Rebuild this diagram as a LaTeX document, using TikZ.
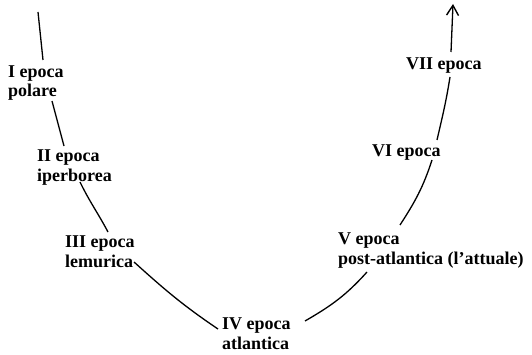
\documentclass[tikz,border=0pt]{standalone}
\usepackage{fontspec}
\setmainfont{Liberation Serif}
\usetikzlibrary{arrows.meta}
\begin{document}
\begin{tikzpicture}[x=1pt,y=1pt,
  lbl/.style={anchor=base west,inner sep=0pt,align=left,
    font=\bfseries\fontsize{18}{20}\selectfont},
  curve/.style={line width=1.3pt,black}]
\useasboundingbox (0,0) rectangle (532,354);
\node[lbl] (L1) at (8,257) {I epoca\\polare};
\node[lbl] (L2) at (37,173) {II epoca\\iperborea};
\node[lbl] (L3) at (65,87) {III epoca\\lemurica};
\node[lbl] (L4) at (222,5) {IV epoca\\atlantica};
\node[lbl] (L5) at (338,90) {V epoca\\post-atlantica (l’attuale)};
\node[lbl] (L6) at (372,198) {VI epoca};
\node[lbl] (L7) at (406,284) {VII epoca};
\coordinate (start) at (38,342);
\coordinate (tip) at (453,350);
\draw[curve] (start) -- ([shift={(35,37)}]L1.base west);
\draw[curve] ([shift={(44,-4)}]L1.base west) -- ([shift={(27,35)}]L2.base west);
\draw[curve] ([shift={(43,-1)}]L2.base west) to[out=-64,in=118] ([shift={(43,35)}]L3.base west);
\draw[curve] ([shift={(69,5)}]L3.base west) to[out=-42,in=146] ([shift={(-4,20)}]L4.base west);
\draw[curve] ([shift={(83,28)}]L4.base west) to[out=30,in=-132] ([shift={(29,-8)}]L5.base west);
\draw[curve] ([shift={(62,39)}]L5.base west) to[out=57,in=-108] ([shift={(60,-4)}]L6.base west);
\draw[curve] ([shift={(65,16)}]L6.base west) to[out=77,in=-99] ([shift={(44,-7)}]L7.base west);
\draw[curve,-{Straight Barb[length=10pt,width=12pt,line width=1.4pt]}] ([shift={(45,18)}]L7.base west) -- (tip);
\end{tikzpicture}
\end{document}
